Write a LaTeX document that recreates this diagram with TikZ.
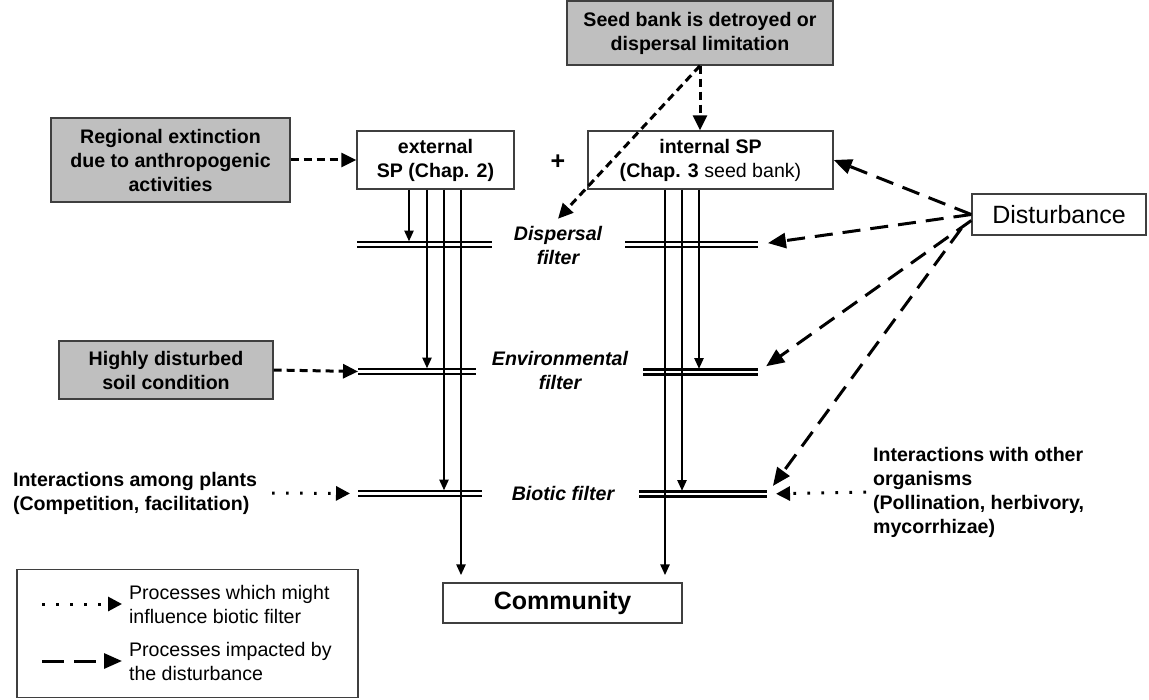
\documentclass[tikz,border=0pt]{standalone}
\usepackage{fontspec}
\setmainfont{Liberation Sans}
\usepackage{tikz}
\usetikzlibrary{arrows.meta}
\usetikzlibrary{calc}
\usetikzlibrary{positioning}
\definecolor{box-grey}{HTML}{BFBFBF}
\definecolor{box-edge}{HTML}{3F3F3F}
\newcommand{\basefont}{\fontsize{9.8}{12}\selectfont}

\begin{document}
\begin{tikzpicture}[x=0.5pt, y=-0.5pt, line cap=butt, line join=miter,
    every node/.style={font=\basefont\bfseries},
    greybox/.style={draw=box-edge, line width=0.7pt, fill=box-grey, align=center, inner sep=2pt},
    whitebox/.style={draw=box-edge, line width=0.7pt, fill=white, align=center, inner sep=2pt},
    filterbar/.style={line width=1.3pt, double distance=1.2pt},
    lane/.style={line width=1.3pt, -{Triangle[length=5.5pt,width=4.5pt]}},
    shortdash/.style={line width=1.5pt, dash pattern=on 4pt off 2.5pt, -{Triangle[length=7.5pt,width=7pt]}},
    longdash/.style={line width=1.5pt, dash pattern=on 9pt off 5pt, -{Triangle[length=9pt,width=7.5pt]}},
    dotline/.style={line width=1.5pt, dash pattern=on 1.3pt off 5.7pt, -{Triangle[length=7pt,width=7pt]}},
    filterlabel/.style={font=\basefont\bfseries\itshape, align=center}]

    % frame
    \useasboundingbox (0,0) rectangle (1149,700);

    % lanes
    \coordinate (e1) at (409,0);
    \coordinate (e2) at (427,0);
    \coordinate (e3) at (444,0);
    \coordinate (e4) at (461,0);
    \coordinate (i1) at (665,0);
    \coordinate (i2) at (682,0);
    \coordinate (i3) at (699,0);

    % filters
    \coordinate (dispLw) at (357,244.5);
    \coordinate (dispLe) at (492,244.5);
    \coordinate (dispRw) at (625,244.5);
    \coordinate (dispRe) at (758,244.5);
    \coordinate (envLw) at (358,371.5);
    \coordinate (envLe) at (476,371.5);
    \coordinate (envRw) at (643,372);
    \coordinate (envRe) at (758,372);
    \coordinate (bioLw) at (358,493.5);
    \coordinate (bioLe) at (482,493.5);
    \coordinate (bioRw) at (639,494);
    \coordinate (bioRe) at (767,494);
    \draw[filterbar] (dispLw) -- (dispLe);
    \draw[filterbar] (dispRw) -- (dispRe);
    \draw[filterbar] (envLw) -- (envLe);
    \draw[filterbar] (envRw) -- (envRe);
    \draw[filterbar] (bioLw) -- (bioLe);
    \draw[filterbar] (bioRw) -- (bioRe);
    \node[filterlabel] (dlab) at (558,245) {Dispersal\\filter};
    \node[filterlabel] (elab) at (560,370) {Environmental\\filter};
    \node[filterlabel] (blab) at (563,493) {Biotic filter};

    % species pools
    \node[greybox, minimum width=133pt, minimum height=32pt] (seed) at (700,33) {Seed bank is detroyed or\\dispersal limitation};
    \node[greybox, minimum width=119.5pt, minimum height=42pt] (reg) at (170.5,160) {Regional extinction\\due to anthropogenic\\activities};
    \node[whitebox, minimum width=78.5pt, minimum height=29pt] (ext) at (435.5,160) {external\\SP (Chap. 2)};
    \node[whitebox, minimum width=122.5pt, minimum height=29pt] (int) at (710.5,160) {internal SP\\(Chap. 3 \mdseries seed bank)};
    \node[font=\fontsize{12.5}{15}\selectfont\bfseries] (plus) at (558,162) {+};
    \node[whitebox, font=\fontsize{12.5}{15}\selectfont, minimum width=87pt, minimum height=20.5pt] (dist) at (1059,214.5) {Disturbance};

    % community
    \node[whitebox, font=\fontsize{12.5}{15}\selectfont\bfseries, minimum width=119.5pt, minimum height=20pt] (comm) at (562.5,603) {Community};

    % lanes through the filters
    \draw[lane] (ext.south -| e1) -- ($(dispLw -| e1)+(0,-3)$);
    \draw[lane] (ext.south -| e2) -- ($(envLw -| e2)+(0,-3)$);
    \draw[lane] (ext.south -| e3) -- ($(bioLw -| e3)+(0,-3)$);
    \draw[lane, shorten >=3.5pt] (ext.south -| e4) -- (comm.north -| e4);
    \draw[lane] (int.south -| i3) -- ($(envRw -| i3)+(0,-3)$);
    \draw[lane] (int.south -| i2) -- ($(bioRw -| i2)+(0,-3)$);
    \draw[lane, shorten >=3.5pt] (int.south -| i1) -- (comm.north -| i1);

    % other drivers
    \node[greybox, minimum width=107pt, minimum height=29pt] (soil) at (166,370) {Highly disturbed\\soil condition};
    \node[anchor=west, align=left] (plants) at (6,493) {Interactions among plants\\(Competition, facilitation)};
    \node[anchor=west, align=left] (organisms) at (866,492) {Interactions with other\\organisms\\(Pollination, herbivory,\\mycorrhizae)};

    % short dashed arrows
    \draw[shortdash] (reg.east) -- (ext.west);
    \draw[shortdash] (soil.east) -- (envLw);
    \draw[shortdash] (seed.south) -- (seed.south |- int.north);
    \draw[shortdash] (seed.south) -- (dlab.north);

    % dotted arrows
    \draw[dotline, shorten <=4pt, shorten >=4pt] (plants.east) -- (bioLw);
    \draw[dotline, shorten >=4.5pt] (organisms.west) -- (bioRe);

    % disturbance arrows
    \draw[longdash] (dist.west) -- (int.east);
    \draw[longdash, shorten >=5pt] (dist.west) -- (dispRe);
    \draw[longdash, shorten >=5pt] ([yshift=-3pt]dist.west) -- (envRe);
    \draw[longdash, shorten >=5pt] ([xshift=-5pt,yshift=-7pt]dist.west) -- (bioRe);

    % legend
    \node[draw=box-edge, line width=0.7pt, minimum width=170.5pt, minimum height=64pt] (legend) at (187.5,633.5) {};
    \node[anchor=west, align=left, font=\basefont] (leg1) at (122,604) {Processes which might\\influence biotic filter};
    \node[anchor=west, align=left, font=\basefont] (leg2) at (122,661) {Processes impacted by\\the disturbance};
    \coordinate (leg1a) at (42,604);
    \coordinate (leg2a) at (42,661);
    \draw[dotline] (leg1a) -- (leg1.west);
    \draw[longdash, dash pattern=on 11pt off 5pt] (leg2a) -- (leg2.west);

\end{tikzpicture}
\end{document}
